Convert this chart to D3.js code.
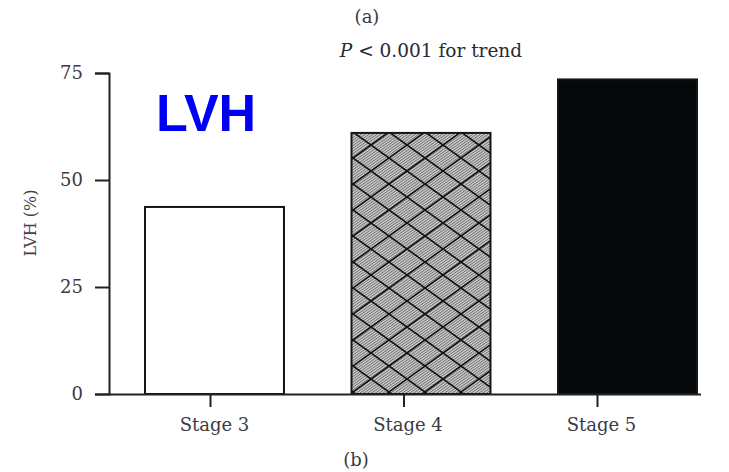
<!DOCTYPE html>
<html>
<head>
<meta charset="utf-8">
<script src="https://cdn.jsdelivr.net/npm/d3@7"></script>
<style>
  body { margin: 0; background: #fff; }
</style>
</head>
<body>
<div id="chart"></div>
<script>
// ---- data ----
var stages = ["Stage 3", "Stage 4", "Stage 5"];
var lvhPct = [43.7, 61.0, 73.5];
var yTicks = [0, 25, 50, 75];
var barFills = ["#ffffff", "url(#fine)", "#05090b"];

var w = 729, h = 472;
var serif = "'DejaVu Serif', 'Liberation Serif', serif";

var svg = d3.select("#chart").append("svg")
  .attr("width", w).attr("height", h);

// patterns for the hatched bar
var defs = svg.append("defs");
var fine = defs.append("pattern")
  .attr("id", "fine").attr("patternUnits", "userSpaceOnUse")
  .attr("width", 2.2).attr("height", 2.2)
  .attr("patternTransform", "rotate(55)");
fine.append("rect").attr("width", 2.2).attr("height", 2.2).attr("fill", "#d6d6d6");
fine.append("rect").attr("width", 1).attr("height", 2.2).attr("fill", "#6e6e6e");

var cross = defs.append("pattern")
  .attr("id", "cross").attr("patternUnits", "userSpaceOnUse")
  .attr("x", 353).attr("y", 132)
  .attr("width", 36).attr("height", 26);
cross.append("path").attr("d", "M0,0L36,26M0,26L36,0")
  .attr("stroke", "#111").attr("stroke-width", 1.6).attr("fill", "none");

// scales
var y = d3.scaleLinear().domain([0, 75]).range([394, 73]);
var xBar = d3.scaleBand().domain(stages).range([145, 697]).paddingInner(0.327).paddingOuter(0);
var xTick = d3.scalePoint().domain(stages).range([210, 597]);

// bars
var bars = svg.selectAll("g.bar").data(stages).enter().append("g").attr("class", "bar");
bars.append("rect")
  .attr("x", function(d) { return xBar(d); })
  .attr("y", function(d, i) { return y(lvhPct[i]); })
  .attr("width", xBar.bandwidth())
  .attr("height", function(d, i) { return y(0) - y(lvhPct[i]); })
  .attr("fill", function(d, i) { return barFills[i]; });
bars.filter(function(d, i) { return i === 1; }).append("rect")
  .attr("x", function(d) { return xBar(d); })
  .attr("y", function(d) { return y(lvhPct[1]); })
  .attr("width", xBar.bandwidth())
  .attr("height", function(d) { return y(0) - y(lvhPct[1]); })
  .attr("fill", "url(#cross)");
bars.append("rect")
  .attr("x", function(d) { return xBar(d); })
  .attr("y", function(d, i) { return y(lvhPct[i]); })
  .attr("width", xBar.bandwidth())
  .attr("height", function(d, i) { return y(0) - y(lvhPct[i]); })
  .attr("fill", "none").attr("stroke", "#151515").attr("stroke-width", 2);

// y axis
var yAxis = svg.append("g").attr("transform", "translate(109,0)")
  .call(d3.axisLeft(y).tickValues(yTicks).tickSize(14).tickPadding(12));
yAxis.select(".domain").attr("stroke", "#222").attr("stroke-width", 2);
yAxis.selectAll(".tick line").attr("stroke", "#222").attr("stroke-width", 2);
yAxis.selectAll(".tick text").style("font-size", "18px")
  .style("font-family", serif).attr("fill", "#3b3b45");

// x axis
var xAxis = svg.append("g").attr("transform", "translate(0,394)")
  .call(d3.axisBottom(xTick).tickSize(13).tickPadding(11));
xAxis.select(".domain").attr("d", "M109,0.5H701").attr("stroke", "#222").attr("stroke-width", 2);
xAxis.selectAll(".tick line").attr("stroke", "#222").attr("stroke-width", 2);
xAxis.selectAll(".tick text").style("font-size", "18px").attr("dx", 4)
  .style("font-family", serif).attr("fill", "#3b3b45");

// axis title
svg.append("text")
  .attr("transform", "translate(36,223) rotate(-90)")
  .attr("text-anchor", "middle").style("font-size", "16px").style("font-family", serif)
  .attr("fill", "#4a3c4a")
  .text("LVH (%)");

// panel labels and annotation
svg.append("text").attr("x", 367).attr("y", 23).attr("text-anchor", "middle")
  .style("font-size", "18px").style("font-family", serif).attr("fill", "#3b3b45").text("(a)");
var pt = svg.append("text").attr("x", 431).attr("y", 57).attr("text-anchor", "middle")
  .style("font-size", "18.5px").style("font-family", serif).attr("fill", "#2a2a35");
pt.append("tspan").attr("font-style", "italic").text("P");
pt.append("tspan").text(" < 0.001 for trend");
svg.append("text").attr("x", 356).attr("y", 466).attr("text-anchor", "middle")
  .style("font-size", "18px").style("font-family", serif).attr("fill", "#3b3b45").text("(b)");

// big LVH label
svg.append("text").attr("x", 156).attr("y", 131)
  .style("font-family", "'Liberation Sans', Arial, sans-serif").style("font-weight", "bold")
  .style("font-size", "52px").attr("fill", "#0000f5").text("LVH");
</script>
</body>
</html>
